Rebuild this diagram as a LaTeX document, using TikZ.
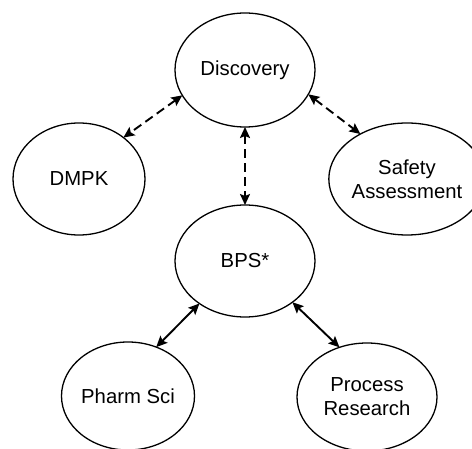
\documentclass[tikz,border=0pt]{standalone}
\usepackage{fontspec}
\setmainfont{Liberation Sans}
\usetikzlibrary{shapes.geometric,arrows.meta}
\begin{document}
\begin{tikzpicture}[x=1pt,y=-1pt,
  bub/.style={draw,ellipse,line width=1.3pt,inner sep=0pt,outer sep=0pt,
    minimum width=#1,minimum height=112pt,align=center,
    font=\fontsize{20.3}{24}\selectfont},
  bub/.default=140pt,
  link/.style={line width=1.9pt,{Stealth[length=11pt,width=10pt,inset=2pt]}-{Stealth[length=11pt,width=10pt,inset=2pt]}},
  dlink/.style={link,dash pattern=on 9pt off 5pt}]
\useasboundingbox (0,0) rectangle (472,449);
\clip (0,0) rectangle (472,449);
\node[bub=140pt,minimum height=114pt] (disc) at (245,70) {Discovery};
\node[bub=132pt] (dmpk) at (79,179) {DMPK};
\node[bub=130pt] (safe) at (407,179) {Safety\\Assessment};
\node[bub=140pt] (bps) at (245,261) {BPS*};
\node[bub=133pt,minimum height=108pt] (pharm) at (128,396) {Pharm Sci};
\node[bub=140pt,minimum height=108pt] (proc) at (367,397) {Process\\Research};
\draw[dlink] (disc.202) -- (dmpk.43);
\draw[dlink] (disc.339) -- (safe.136);
\draw[dlink] (disc.270) -- (bps.90);
\draw[link] (bps.223) -- (pharm.60);
\draw[link] (bps.319) -- (proc.119);
\end{tikzpicture}
\end{document}
